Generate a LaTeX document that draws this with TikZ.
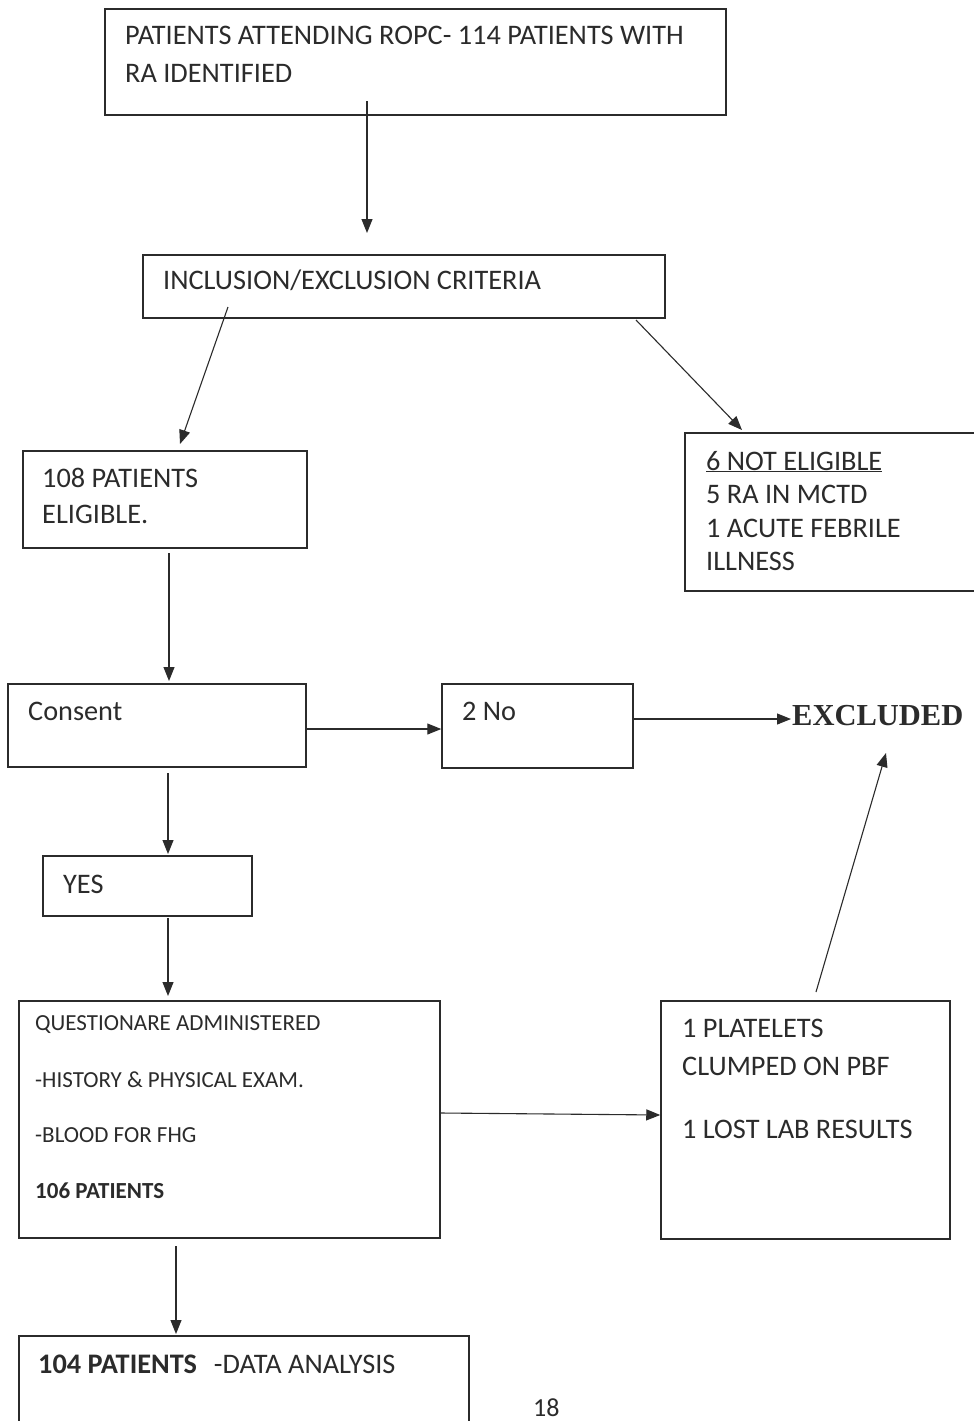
\documentclass[tikz,border=0pt]{standalone}
\usepackage{fontspec}
\setmainfont{Carlito}
\newfontfamily\serifx{Liberation Serif}
\usetikzlibrary{arrows.meta}
\definecolor{ink}{HTML}{2B2B2B}
\begin{document}
\begin{tikzpicture}[x=1pt,y=-1pt,
  box/.style={draw=ink, line width=1.5pt, inner sep=0pt, fill=none},
  conn/.style={draw=ink, line width=1.1pt, -{Triangle[length=14pt,width=11pt]}},
  txt/.style={anchor=base west, inner sep=0pt, text=ink, font=\fontsize{28.3}{28}\selectfont},
  smalltxt/.style={txt, font=\fontsize{23}{23}\selectfont}]
\useasboundingbox[fill=white] (0,0) rectangle (974,1421);

% boxes
\node[box, minimum width=621pt, minimum height=106pt] (b1) at (415.5,62) {};
\node[box, minimum width=522pt, minimum height=63pt] (b2) at (404,286.5) {};
\node[box, minimum width=284pt, minimum height=97pt] (b3) at (165,499.5) {};
\node[box, minimum width=305pt, minimum height=158pt] (b4) at (837.5,512) {};
\node[box, minimum width=298pt, minimum height=83pt] (b5) at (157,725.5) {};
\node[box, minimum width=191pt, minimum height=84pt] (b6) at (537.5,726) {};
\node[box, minimum width=209pt, minimum height=60pt] (b7) at (147.5,886) {};
\node[box, minimum width=421pt, minimum height=237pt] (b8) at (229.5,1119.5) {};
\node[box, minimum width=289pt, minimum height=238pt] (b9) at (805.5,1120) {};
\node[box, minimum width=450pt, minimum height=114pt] (b10) at (244,1393) {};

% texts
\node[txt] (t1a) at (125,45) {PATIENTS ATTENDING ROPC- 114 PATIENTS WITH};
\node[txt] (t1b) at (125,82) {RA IDENTIFIED};
\node[txt] (t2) at (163,289) {INCLUSION/EXCLUSION CRITERIA};
\node[txt] (t3a) at (42,487) {108 PATIENTS};
\node[txt] (t3b) at (42,523) {ELIGIBLE.};
\node[txt] (t4a) at (706,470) {\underline{6 NOT ELIGIBLE}};
\node[txt] (t4b) at (706,503) {5 RA IN MCTD};
\node[txt] (t4c) at (706,537) {1 ACUTE FEBRILE};
\node[txt] (t4d) at (706,570) {ILLNESS};
\node[txt] (t5) at (28,720) {Consent};
\node[txt] (t6) at (462,720) {2 No};
\node[txt, font=\serifx\bfseries\fontsize{30.5}{31}\selectfont] (excl) at (792,725) {EXCLUDED};
\node[txt] (t7) at (63,893) {YES};
\node[smalltxt] (t8a) at (35,1030) {QUESTIONARE ADMINISTERED};
\node[smalltxt] (t8b) at (35,1087) {-HISTORY \& PHYSICAL EXAM.};
\node[smalltxt] (t8c) at (35,1142) {-BLOOD FOR FHG};
\node[smalltxt] (t8d) at (35,1198) {\bfseries 106 PATIENTS};
\node[txt] (t9a) at (682,1037) {1 PLATELETS};
\node[txt] (t9b) at (682,1075) {CLUMPED ON PBF};
\node[txt] (t9c) at (682,1138) {1 LOST LAB RESULTS};
\node[txt] (t10) at (38,1373) {\textbf{104 PATIENTS}\hspace{17pt}-DATA ANALYSIS};
\node[txt, font=\fontsize{26}{26}\selectfont] (pg) at (533,1416) {18};

% connector ends
\coordinate (a1s) at (367,101);  \coordinate (a1e) at (367,233);
\coordinate (a2s) at (228,307);  \coordinate (a2e) at (180,444);
\coordinate (a3s) at (636,320);  \coordinate (a3e) at (742,430);
\coordinate (a4s) at (169,553);  \coordinate (a4e) at (169,681);
\coordinate (a6e) at (791,719);
\coordinate (a7s) at (168,773);  \coordinate (a7e) at (168,854);
\coordinate (a8s) at (168,918);  \coordinate (a8e) at (168,996);
\coordinate (a10s) at (816,992); \coordinate (a10e) at (886,753);
\coordinate (a11s) at (176,1246); \coordinate (a11e) at (176,1334);

% connectors
\draw[conn] (a1s) -- (a1e);
\draw[conn] (a2s) -- (a2e);
\draw[conn] (a3s) -- (a3e);
\draw[conn] (a4s) -- (a4e);
\draw[conn] ([yshift=-3.5pt]b5.east) -- ([yshift=-3pt]b6.west);
\draw[conn] ([yshift=7pt]b6.east) -- (a6e);
\draw[conn] (a7s) -- (a7e);
\draw[conn] (a8s) -- (a8e);
\draw[conn] ([yshift=6.5pt]b8.east) -- ([yshift=5pt]b9.west);
\draw[conn] (a10s) -- (a10e);
\draw[conn] (a11s) -- (a11e);
\end{tikzpicture}
\end{document}
